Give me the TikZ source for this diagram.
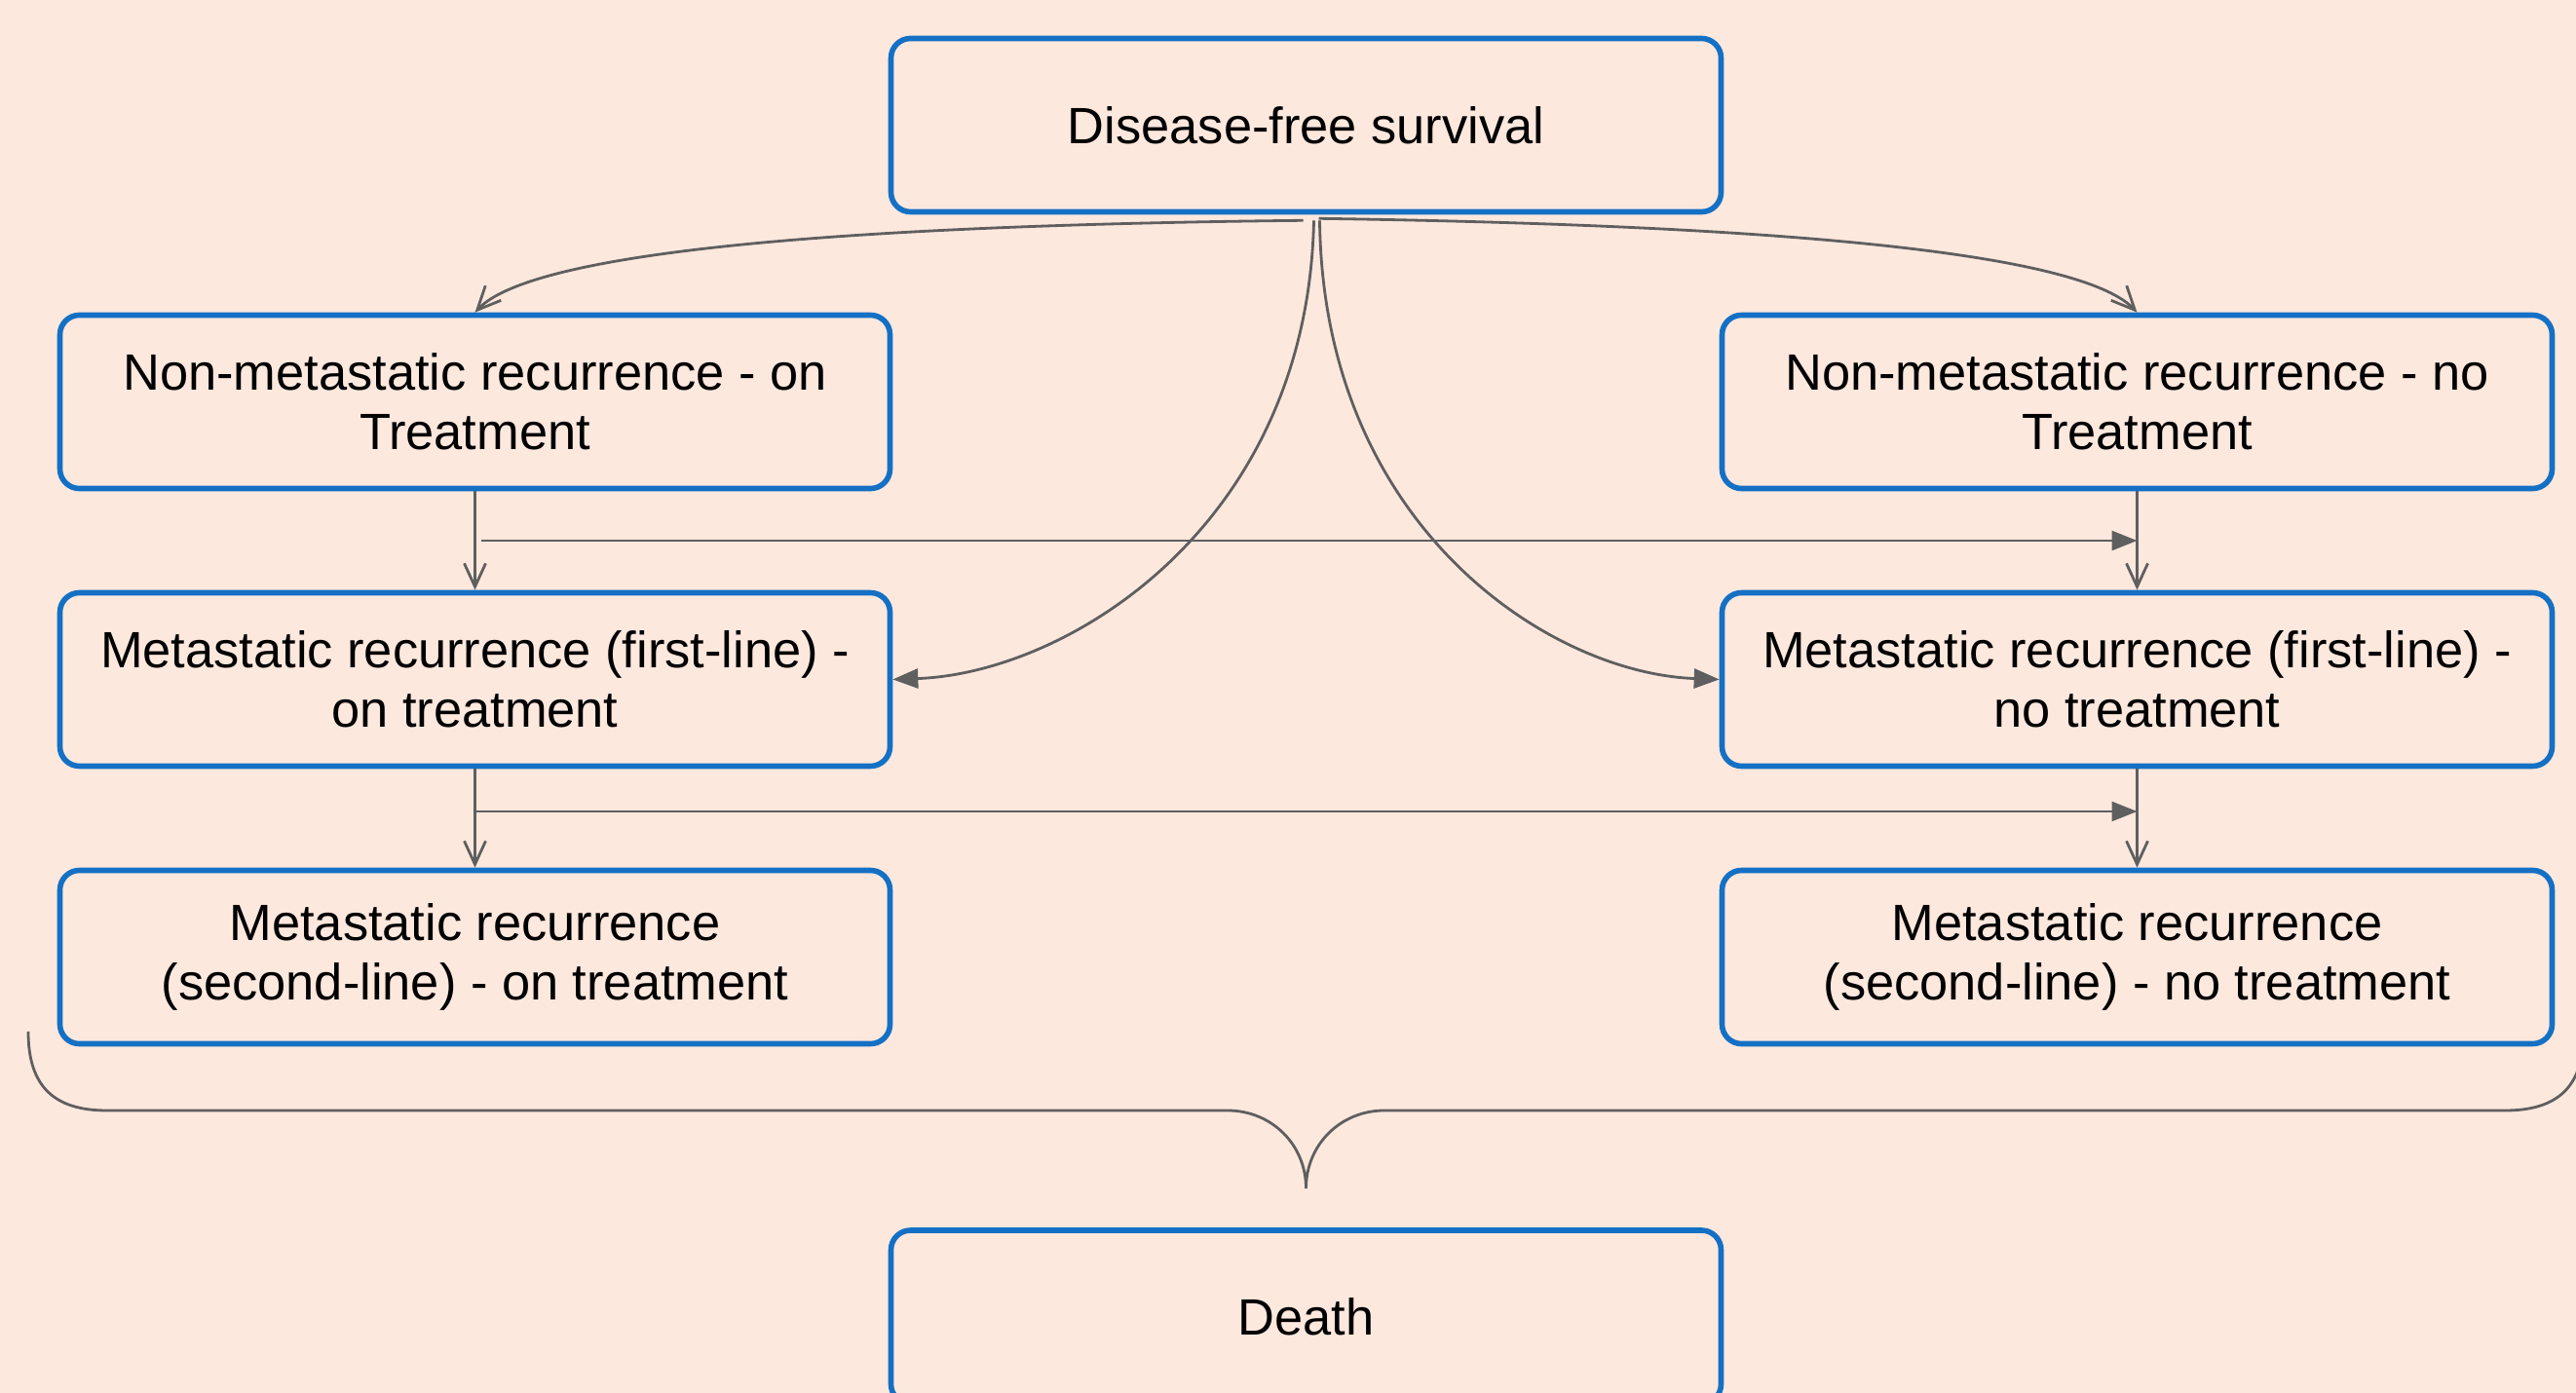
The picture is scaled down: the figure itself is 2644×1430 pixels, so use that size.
\documentclass[tikz,border=0pt]{standalone}
\usepackage{fontspec}
\setmainfont{Liberation Sans}
\usetikzlibrary{arrows.meta}
\definecolor{bg}{RGB}{253,232,222}
\definecolor{boxblue}{RGB}{20,112,196}
\definecolor{arrowgray}{RGB}{95,95,95}
\begin{document}
\begin{tikzpicture}[x=0.25pt,y=-0.25pt,
  stage/.style={draw=boxblue, line width=1.4pt, rounded corners=5pt, fill=bg,
    minimum width=213pt, minimum height=44.5pt, inner sep=0pt, align=center,
    font=\fontsize{13.1pt}{15.3pt}\selectfont},
  conn/.style={draw=arrowgray, line width=0.7pt},
  openhead/.style={conn, -{Straight Barb[length=6pt,width=5.5pt]}},
  filledhead/.style={conn, -{Triangle[length=6.5pt,width=5pt]}}]
\clip (0,0) rectangle (2644,1430);
\fill[bg] (0,0) rectangle (2644,1430);

\node[stage] (dfs) at (1340.5,128.5) {Disease-free survival};
\node[stage] (nmon) at (487.5,412.5) {Non-metastatic recurrence - on\\Treatment};
\node[stage] (nmno) at (2193.5,412.5) {Non-metastatic recurrence - no\\Treatment};
\node[stage] (m1on) at (487.5,697.5) {Metastatic recurrence (first-line) -\\on treatment};
\node[stage] (m1no) at (2193.5,697.5) {Metastatic recurrence (first-line) -\\no treatment};
\node[stage] (m2on) at (487.5,982.5) {Metastatic recurrence\\(second-line) - on treatment};
\node[stage] (m2no) at (2193.5,982.5) {Metastatic recurrence\\(second-line) - no treatment};
\node[stage] (death) at (1340.5,1352) {Death};

% from disease-free survival
\draw[openhead] ([shift={(-3,6)}]dfs.south) .. controls (800,232) and (540,265) .. (nmon.north);
\draw[openhead] ([shift={(13,4)}]dfs.south) .. controls (1881,232) and (2141,265) .. (nmno.north);
\draw[filledhead] ([shift={(8,6)}]dfs.south) .. controls (1342,540) and (1096,691) .. (m1on.east);
\draw[filledhead] ([shift={(14,6)}]dfs.south) .. controls (1358,540) and (1590,691) .. (m1no.west);

% vertical transitions
\draw[openhead] (nmon.south) -- (m1on.north);
\draw[openhead] (nmno.south) -- (m1no.north);
\draw[openhead] (m1on.south) -- (m2on.north);
\draw[openhead] (m1no.south) -- (m2no.north);

% horizontal transitions
\coordinate (h1a) at (494,555);
\coordinate (h2a) at (489,833);
\draw[filledhead] (h1a) -- (h1a -| nmno.south);
\draw[filledhead] (h2a) -- (h2a -| m1no.south);

% brace towards death
\draw[conn] (29,1059) .. controls (29,1115) and (55,1140) .. (110,1140)
  -- (1260,1140) .. controls (1305,1140) and (1340.5,1175) .. (1340.5,1220)
  .. controls (1340.5,1175) and (1376,1140) .. (1421,1140)
  -- (2571,1140) .. controls (2626,1140) and (2652,1115) .. (2652,1059);
\end{tikzpicture}
\end{document}
